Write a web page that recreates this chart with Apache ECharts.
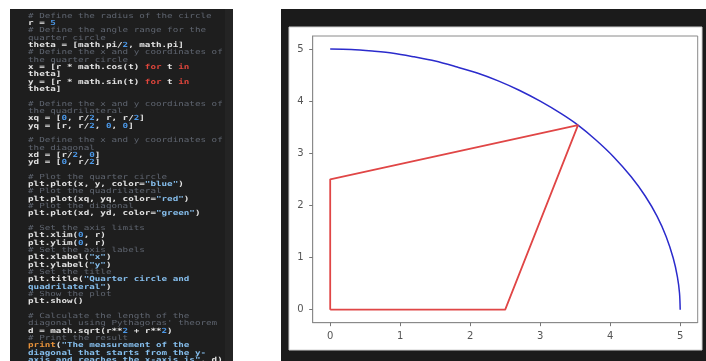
<!DOCTYPE html>
<html>
<head>
<meta charset="utf-8">
<script src="https://cdn.jsdelivr.net/npm/echarts@6/dist/echarts.min.js"></script>
<style>
  html, body { margin: 0; padding: 0; background: #fff; }
  #chart { width: 706px; height: 361px; }
</style>
</head>
<body>
<div id="chart"></div>
<script>
// quarter circle
const arcX = [0, 0.3, 0.6, 0.9, 1.2, 1.5, 1.8, 2.1, 2.4, 2.7, 3.0, 3.3, 3.54, 3.8, 4.05, 4.3, 4.5, 4.67, 4.8, 4.9, 4.96, 4.99, 5.0];
const arcY = [5.0, 4.99, 4.96, 4.92, 4.85, 4.77, 4.66, 4.54, 4.39, 4.21, 4.0, 3.76, 3.54, 3.25, 2.93, 2.55, 2.18, 1.79, 1.4, 0.99, 0.63, 0.32, 0];

// red quadrilateral (closed)
const quadX = [0, 0, 3.54, 2.5, 0];
const quadY = [0, 2.5, 3.54, 0, 0];

const xTicks = [0, 1, 2, 3, 4, 5];
const yTicks = [0, 1, 2, 3, 4, 5];

// code panel, each line is a list of [text, style]
const codeLines = [
  [["# Define the radius of the circle", "cm"]],
  [["r = ", "tx"], ["5", "nm"]],
  [["# Define the angle range for the", "cm"]],
  [["quarter circle", "cm"]],
  [["theta = [math.pi/", "tx"], ["2", "nm"], [", math.pi]", "tx"]],
  [["# Define the x and y coordinates of", "cm"]],
  [["the quarter circle", "cm"]],
  [["x = [r * math.cos(t) ", "tx"], ["for", "kw"], [" t ", "tx"], ["in", "kw"]],
  [["theta]", "tx"]],
  [["y = [r * math.sin(t) ", "tx"], ["for", "kw"], [" t ", "tx"], ["in", "kw"]],
  [["theta]", "tx"]],
  [],
  [["# Define the x and y coordinates of", "cm"]],
  [["the quadrilateral", "cm"]],
  [["xq = [", "tx"], ["0", "nm"], [", r/", "tx"], ["2", "nm"], [", r, r/", "tx"], ["2", "nm"], ["]", "tx"]],
  [["yq = [r, r/", "tx"], ["2", "nm"], [", ", "tx"], ["0", "nm"], [", ", "tx"], ["0", "nm"], ["]", "tx"]],
  [],
  [["# Define the x and y coordinates of", "cm"]],
  [["the diagonal", "cm"]],
  [["xd = [r/", "tx"], ["2", "nm"], [", ", "tx"], ["0", "nm"], ["]", "tx"]],
  [["yd = [", "tx"], ["0", "nm"], [", r/", "tx"], ["2", "nm"], ["]", "tx"]],
  [],
  [["# Plot the quarter circle", "cm"]],
  [["plt.plot(x, y, color=", "tx"], ["\"blue\"", "st"], [")", "tx"]],
  [["# Plot the quadrilateral", "cm"]],
  [["plt.plot(xq, yq, color=", "tx"], ["\"red\"", "st"], [")", "tx"]],
  [["# Plot the diagonal", "cm"]],
  [["plt.plot(xd, yd, color=", "tx"], ["\"green\"", "st"], [")", "tx"]],
  [],
  [["# Set the axis limits", "cm"]],
  [["plt.xlim(", "tx"], ["0", "nm"], [", r)", "tx"]],
  [["plt.ylim(", "tx"], ["0", "nm"], [", r)", "tx"]],
  [["# Set the axis labels", "cm"]],
  [["plt.xlabel(", "tx"], ["\"x\"", "st"], [")", "tx"]],
  [["plt.ylabel(", "tx"], ["\"y\"", "st"], [")", "tx"]],
  [["# Set the title", "cm"]],
  [["plt.title(", "tx"], ["\"Quarter circle and", "st"]],
  [["quadrilateral\"", "st"], [")", "tx"]],
  [["# Show the plot", "cm"]],
  [["plt.show()", "tx"]],
  [],
  [["# Calculate the length of the", "cm"]],
  [["diagonal using Pythagoras' theorem", "cm"]],
  [["d = math.sqrt(r**", "tx"], ["2", "nm"], [" + r**", "tx"], ["2", "nm"], [")", "tx"]],
  [["# Print the result", "cm"]],
  [["print", "fn"], ["(", "tx"], ["\"The measurement of the", "st"]],
  [["diagonal that starts from the y-", "st"]],
  [["axis and reaches the x-axis is\"", "st"], [", d)", "tx"]]
];

// zrender text styles use fill for the colour
const codeStyles = {
  cm: { fill: "#5f6570" },
  tx: { fill: "#e4e4e4", fontWeight: "bold" },
  nm: { fill: "#4b97e6", fontWeight: "bold" },
  kw: { fill: "#e0463c", fontWeight: "bold" },
  st: { fill: "#86bfee", fontWeight: "bold" },
  fn: { fill: "#e8923a", fontWeight: "bold" }
};

const codeFont = "'DejaVu Sans Mono', monospace";
const richStyles = {};
Object.keys(codeStyles).forEach((k) => {
  richStyles[k] = Object.assign({ fontFamily: codeFont, fontSize: 7 }, codeStyles[k]);
});

const codeTexts = codeLines.map((segs, i) => ({
  type: "text",
  x: 0,
  y: 16 + i * 7.32,
  silent: true,
  style: {
    text: segs.map(([t, s]) => `{${s}|${t}}`).join(""),
    rich: richStyles,
    fill: "#e4e4e4",
    fontFamily: codeFont,
    fontSize: 7,
    verticalAlign: "middle",
    align: "left"
  }
}));

const chart = echarts.init(document.getElementById("chart"), null, { renderer: "canvas" });

chart.setOption({
  animation: false,
  backgroundColor: "#ffffff",
  graphic: [
    // code panel
    { type: "rect", z: -10, silent: true, shape: { x: 10, y: 9, width: 223, height: 352 }, style: { fill: "#1e1e1e" } },
    { type: "rect", z: -9, silent: true, shape: { x: 225, y: 9, width: 8, height: 352 }, style: { fill: "#242424" } },
    { type: "group", x: 28, y: 0, scaleX: 1.32, z: 5, children: codeTexts },
    // plot window frame
    { type: "rect", z: -10, silent: true, shape: { x: 281, y: 9, width: 425, height: 352 }, style: { fill: "#1b1b1b" } },
    { type: "rect", z: -9, silent: true, shape: { x: 289, y: 27, width: 413, height: 323 }, style: { fill: "#ffffff", stroke: "#d0d0d0", lineWidth: 1 } }
  ],
  grid: {
    left: 312.7,
    right: 8.3,
    top: 36,
    bottom: 38.3,
    show: true,
    borderColor: "#8a8a8a",
    borderWidth: 1,
    backgroundColor: "transparent"
  },
  xAxis: {
    type: "value",
    min: -0.25,
    max: 5.25,
    axisLine: { show: true, onZero: false, lineStyle: { color: "#8a8a8a" } },
    axisTick: { show: true, length: 3.5, customValues: xTicks, lineStyle: { color: "#777" } },
    axisLabel: { customValues: xTicks, color: "#555", fontSize: 10, fontFamily: "DejaVu Sans", margin: 9 },
    splitLine: { show: false }
  },
  yAxis: {
    type: "value",
    min: -0.25,
    max: 5.25,
    axisLine: { show: true, onZero: false, lineStyle: { color: "#8a8a8a" } },
    axisTick: { show: true, length: 3.5, customValues: yTicks, lineStyle: { color: "#777" } },
    axisLabel: { customValues: yTicks, color: "#555", fontSize: 10, fontFamily: "DejaVu Sans", margin: 9 },
    splitLine: { show: false }
  },
  series: [
    {
      type: "line",
      data: arcX.map((x, i) => [x, arcY[i]]),
      smooth: 0.3,
      showSymbol: false,
      lineStyle: { color: "#2b2bcc", width: 1.5 }
    },
    {
      type: "line",
      data: quadX.map((x, i) => [x, quadY[i]]),
      showSymbol: false,
      lineStyle: { color: "#e04646", width: 1.8 }
    }
  ]
});
</script>
</body>
</html>
